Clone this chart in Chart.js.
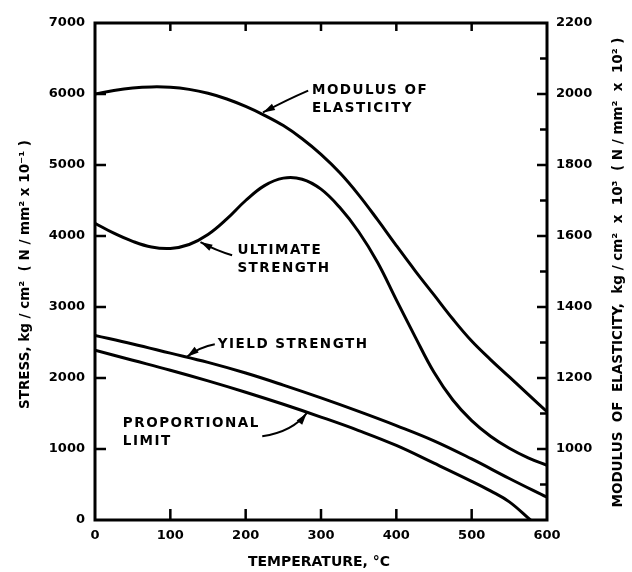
<!DOCTYPE html>
<html>
<head>
<meta charset="utf-8">
<script src="https://cdn.jsdelivr.net/npm/chart.js@4.4.1/dist/chart.umd.min.js"></script>
<style>
  html, body { margin: 0; padding: 0; background: #fff; }
  canvas { display: block; }
</style>
</head>
<body>
<canvas id="chart" width="632" height="572"></canvas>
<script>
// temperatures, deg C
const tempsFine = [0, 25, 50, 75, 100, 125, 150, 175, 200, 225, 250, 275, 300,
  325, 350, 375, 400, 425, 450, 475, 500, 525, 550, 575, 600];
const tempsCoarse = [0, 50, 100, 150, 200, 250, 300, 350, 400, 450, 500, 550, 600];
const propTemps = [0, 50, 100, 150, 200, 250, 300, 350, 400, 450, 500, 525, 550, 578];

// modulus of elasticity, kg/cm2 x 10^3 (right axis)
const modulus = [2000, 2010, 2017, 2020, 2019, 2013, 2002, 1986, 1965, 1940, 1911, 1874, 1830,
  1778, 1716, 1646, 1573, 1502, 1434, 1366, 1304, 1252, 1203, 1154, 1105];
// stresses, kg/cm2 (left axis)
const ultimate = [4180, 4040, 3925, 3845, 3825, 3880, 4020, 4240, 4500, 4710, 4815, 4800, 4660,
  4400, 4060, 3630, 3100, 2580, 2080, 1690, 1400, 1180, 1010, 875, 770];
const yieldStr = [2600, 2480, 2350, 2220, 2070, 1900, 1720, 1530, 1330, 1115, 860, 585, 320];
const propLimit = [2390, 2250, 2110, 1960, 1800, 1630, 1450, 1260, 1050, 800, 545, 410, 255, 0];

const ink = '#000';
const family = '"DejaVu Sans", "Liberation Sans", sans-serif';
const tickFont = { family: family, weight: 'bold', size: 13 };

// callout text and arrows, in data units of temperature / left axis
const callouts = [
  { lines: ['MODULUS OF', 'ELASTICITY'], at: [288, 6048],
    from: [283, 6048], bend: [255, 5920], to: [223, 5740] },
  { lines: ['ULTIMATE', 'STRENGTH'], at: [189, 3800],
    from: [182, 3730], bend: [160, 3800], to: [140, 3915] },
  { lines: ['YIELD STRENGTH'], at: [163, 2475],
    from: [159, 2475], bend: [140, 2440], to: [122, 2300] },
  { lines: ['PROPORTIONAL', 'LIMIT'], at: [37, 1364],
    from: [222, 1180], bend: [262, 1240], to: [281, 1505] }
];

function toPts(xs, ys) {
  return xs.map((t, i) => ({ x: t, y: ys[i] }));
}

function drawArrow(ctx, x0, y0, cx, cy, x1, y1) {
  ctx.beginPath();
  ctx.moveTo(x0, y0);
  ctx.quadraticCurveTo(cx, cy, x1, y1);
  ctx.stroke();
  const ang = Math.atan2(y1 - cy, x1 - cx);
  const L = 12, W = 3.5;
  ctx.beginPath();
  ctx.moveTo(x1, y1);
  ctx.lineTo(x1 - L * Math.cos(ang) + W * Math.sin(ang), y1 - L * Math.sin(ang) - W * Math.cos(ang));
  ctx.lineTo(x1 - L * Math.cos(ang) - W * Math.sin(ang), y1 - L * Math.sin(ang) + W * Math.cos(ang));
  ctx.closePath();
  ctx.fill();
}

const figureDecor = {
  id: 'figureDecor',
  afterDatasetsDraw(chart) {
    const { ctx, chartArea: a, scales } = chart;
    const x = scales.x, y = scales.y, y2 = scales.y2;
    ctx.save();
    ctx.strokeStyle = ink;
    ctx.fillStyle = ink;

    // frame
    ctx.lineWidth = 3;
    ctx.strokeRect(a.left, a.top, a.right - a.left, a.bottom - a.top);

    // inward tick marks
    ctx.lineWidth = 2.5;
    ctx.beginPath();
    x.ticks.forEach(t => {
      if (t.value <= x.min || t.value >= x.max) return;
      const px = x.getPixelForValue(t.value);
      ctx.moveTo(px, a.bottom); ctx.lineTo(px, a.bottom - 11);
      ctx.moveTo(px, a.top); ctx.lineTo(px, a.top + 8);
    });
    y.ticks.forEach(t => {
      if (t.value <= y.min || t.value >= y.max) return;
      const py = y.getPixelForValue(t.value);
      ctx.moveTo(a.left, py); ctx.lineTo(a.left + 11, py);
    });
    for (let v = y2.min + 100; v < y2.max; v += 100) {
      const py = y2.getPixelForValue(v);
      ctx.moveTo(a.right, py); ctx.lineTo(a.right - (v % 200 === 0 ? 10 : 7), py);
    }
    ctx.stroke();

    // callouts
    ctx.lineWidth = 2;
    ctx.font = 'bold 13.5px ' + family;
    ctx.letterSpacing = '1.5px';
    ctx.textAlign = 'left';
    ctx.textBaseline = 'middle';
    callouts.forEach(c => {
      const tx = x.getPixelForValue(c.at[0]);
      const ty = y.getPixelForValue(c.at[1]);
      c.lines.forEach((s, i) => ctx.fillText(s, tx, ty + i * 18));
      drawArrow(ctx,
        x.getPixelForValue(c.from[0]), y.getPixelForValue(c.from[1]),
        x.getPixelForValue(c.bend[0]), y.getPixelForValue(c.bend[1]),
        x.getPixelForValue(c.to[0]), y.getPixelForValue(c.to[1]));
    });

    // axis titles
    ctx.letterSpacing = '0px';
    ctx.textAlign = 'center';
    ctx.font = 'bold 14px ' + family;
    ctx.fillText('TEMPERATURE, \u00B0C', (a.left + a.right) / 2 - 2, a.bottom + 42);

    ctx.font = 'bold 13.5px ' + family;
    ctx.save();
    ctx.translate(a.left - 70, (a.top + a.bottom) / 2 + 3);
    ctx.rotate(-Math.PI / 2);
    ctx.fillText('STRESS, kg / cm\u00B2  ( N / mm\u00B2 x 10\u207B\u00B9 )', 0, 0);
    ctx.restore();

    ctx.save();
    ctx.translate(a.right + 71, (a.top + a.bottom) / 2 + 1);
    ctx.rotate(-Math.PI / 2);
    ctx.fillText('MODULUS  OF  ELASTICITY,  kg / cm\u00B2  x  10\u00B3  ( N / mm\u00B2  x  10\u00B2 )', 0, 0);
    ctx.restore();

    ctx.restore();
  }
};

const lineStyle = {
  borderColor: ink,
  borderWidth: 3,
  pointRadius: 0,
  fill: false,
  tension: 0.4,
  borderJoinStyle: 'round',
  borderCapStyle: 'round'
};

new Chart(document.getElementById('chart'), {
  type: 'line',
  data: {
    datasets: [
      Object.assign({ label: 'Modulus of elasticity', data: toPts(tempsFine, modulus), yAxisID: 'y2' }, lineStyle),
      Object.assign({ label: 'Ultimate strength', data: toPts(tempsFine, ultimate), yAxisID: 'y' }, lineStyle),
      Object.assign({ label: 'Yield strength', data: toPts(tempsCoarse, yieldStr), yAxisID: 'y' }, lineStyle),
      Object.assign({ label: 'Proportional limit', data: toPts(propTemps, propLimit), yAxisID: 'y' }, lineStyle)
    ]
  },
  options: {
    responsive: false,
    animation: false,
    layout: { padding: { top: 23, left: 0, right: 0, bottom: 0 } },
    plugins: { legend: { display: false }, tooltip: { enabled: false } },
    scales: {
      x: {
        type: 'linear', min: 0, max: 600,
        grid: { display: false, drawTicks: false },
        border: { display: false },
        ticks: { stepSize: 100, padding: 8, color: ink, font: tickFont, callback: v => String(v) },
        afterFit(s) { s.height = 52; }
      },
      y: {
        type: 'linear', position: 'left', min: 0, max: 7000,
        grid: { display: false, drawTicks: false },
        border: { display: false },
        ticks: { stepSize: 1000, padding: 10, color: ink, font: tickFont, callback: v => String(v) },
        afterFit(s) { s.width = 95; }
      },
      y2: {
        type: 'linear', position: 'right', min: 800, max: 2200,
        grid: { display: false, drawTicks: false },
        border: { display: false },
        ticks: { stepSize: 200, padding: 9, color: ink, font: tickFont, callback: v => (v === 800 ? '' : String(v)) },
        afterFit(s) { s.width = 85; }
      }
    }
  },
  plugins: [figureDecor]
});
</script>
</body>
</html>
